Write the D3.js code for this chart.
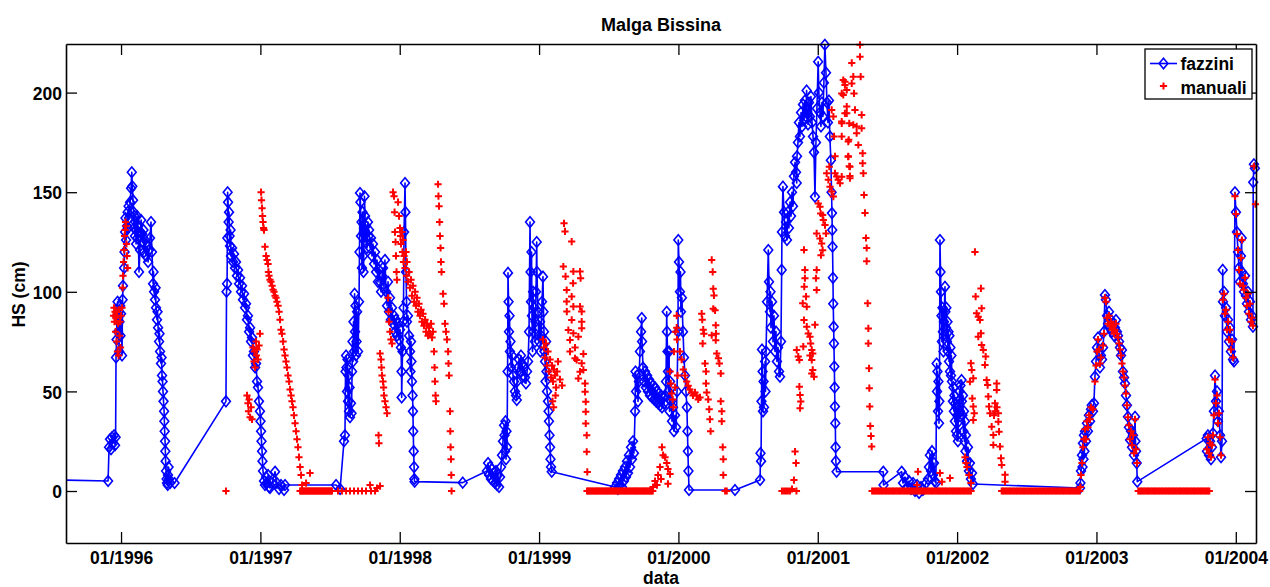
<!DOCTYPE html>
<html>
<head>
<meta charset="utf-8">
<script src="https://cdn.jsdelivr.net/npm/d3@7"></script>
<style>
  body { margin: 0; background: #fff; }
  svg { display: block; }
  text { font-family: "Liberation Sans", Arial, Helvetica, sans-serif; font-weight: bold; fill: #000; }
</style>
</head>
<body>
<svg id="chart" width="1270" height="587"></svg>
<script>
// ---- chart text ----
const chartTitle = "Malga Bissina";
const xLabel = "data";
const yLabel = "HS (cm)";
const seriesNames = ["fazzini", "manuali"];

// ---- axis ticks (x in decimal years) ----
const xTickYears = [1996, 1997, 1998, 1999, 2000, 2001, 2002, 2003, 2004];
const yTickValues = [0, 50, 100, 150, 200];
const xDomain = [1995.605, 2004.145];
const yDomain = [-26.1, 224.4];

// ---- snow depth (cm), automatic station: [decimal year, HS] ----
const fazzini = [
[1995.580,5.5],[1995.907,5],[1995.914,22],[1995.921,26],[1995.928,21],[1995.935,27],[1995.943,24],[1995.950,28],[1995.957,23],[1995.961,27],
[1995.964,67],[1995.968,76],[1995.971,88],[1995.975,95],[1995.978,80],[1995.982,90],[1995.986,70],[1995.989,85],[1995.993,93],[1995.996,78],
[1996.000,89],[1996.007,68],[1996.011,96],[1996.014,103],[1996.022,112],[1996.025,120],[1996.029,130],[1996.032,137],[1996.036,126],[1996.043,133],
[1996.047,140],[1996.050,132],[1996.054,143],[1996.057,137],[1996.065,145],[1996.072,152],[1996.077,160],[1996.081,153],[1996.086,146],[1996.090,140],
[1996.093,132],[1996.097,138],[1996.100,128],[1996.104,135],[1996.108,124],[1996.111,131],[1996.115,138],[1996.118,127],[1996.122,133],[1996.129,110],
[1996.136,121],[1996.140,130],[1996.144,136],[1996.151,129],[1996.158,125],[1996.161,131],[1996.165,120],[1996.172,126],[1996.179,118],[1996.187,123],
[1996.194,115],[1996.201,121],[1996.208,127],[1996.215,135],[1996.222,120],[1996.230,104],[1996.233,110],[1996.237,100],[1996.244,96],[1996.248,102],
[1996.251,92],[1996.258,86],[1996.262,90],[1996.266,82],[1996.273,75],[1996.276,79],[1996.280,70],[1996.287,64],[1996.291,67],[1996.294,58],
[1996.298,55],[1996.301,50],[1996.305,45],[1996.309,40],[1996.311,35],[1996.313,30],[1996.316,25],[1996.318,20],[1996.320,15],[1996.323,10],
[1996.327,6],[1996.330,4],[1996.335,3],[1996.337,8],[1996.341,12],[1996.344,6],[1996.352,4],[1996.384,4],
[1996.753,45],[1996.757,100],[1996.761,104],[1996.763,127],[1996.765,150],[1996.768,145],[1996.772,135],[1996.775,140],[1996.779,128],[1996.782,123],
[1996.786,131],[1996.789,118],[1996.797,122],[1996.804,115],[1996.811,119],[1996.818,112],[1996.825,115],[1996.832,108],[1996.840,111],[1996.847,104],
[1996.854,107],[1996.861,100],[1996.868,103],[1996.875,96],[1996.883,99],[1996.890,92],[1996.897,94],[1996.904,86],[1996.911,88],[1996.919,80],
[1996.926,82],[1996.933,75],[1996.940,77],[1996.947,68],[1996.954,70],[1996.962,62],[1996.969,64],[1996.976,55],[1996.983,52],[1996.990,45],
[1996.997,40],[1997.001,35],[1997.005,30],[1997.008,25],[1997.012,20],[1997.015,15],[1997.019,10],[1997.026,5],[1997.033,3],[1997.041,7],
[1997.048,4],[1997.055,8],[1997.062,2],[1997.069,1.5],[1997.084,4],[1997.105,9.7],[1997.119,4],[1997.134,1],[1997.148,3],[1997.170,0.5],
[1997.177,3],[1997.543,3],[1997.572,1],
[1997.600,25],[1997.607,28],[1997.611,60],[1997.615,68],[1997.618,62],[1997.622,50],[1997.625,66],[1997.629,45],[1997.633,58],[1997.636,40],
[1997.640,52],[1997.643,37],[1997.650,44],[1997.654,39],[1997.658,60],[1997.661,75],[1997.665,65],[1997.668,85],[1997.672,70],[1997.676,99],
[1997.679,80],[1997.683,93],[1997.686,68],[1997.690,75],[1997.694,90],[1997.701,70],[1997.708,95],[1997.711,120],[1997.715,149.6],[1997.718,145],
[1997.722,128],[1997.726,135],[1997.729,112],[1997.733,140],[1997.737,118],[1997.740,110],[1997.744,130],[1997.747,148],[1997.751,138],[1997.754,125],
[1997.758,133],[1997.765,122],[1997.772,135],[1997.776,128],[1997.780,131],[1997.787,122],[1997.794,127],[1997.801,118],[1997.808,124],[1997.816,114],
[1997.823,120],[1997.830,110],[1997.837,116],[1997.844,105],[1997.851,111],[1997.859,105],[1997.866,100],[1997.873,108],[1997.880,112],[1997.887,102],
[1997.894,116],[1997.902,100],[1997.909,93],[1997.916,105],[1997.923,90],[1997.930,97],[1997.937,86],[1997.945,92],[1997.952,84],[1997.959,88],
[1997.966,80],[1997.973,86],[1997.980,78],[1997.988,84],[1997.995,76],[1998.002,81],[1998.009,72],[1998.013,60],[1998.014,47],[1998.020,70],
[1998.024,85],[1998.027,92],[1998.031,130],[1998.038,154.6],[1998.041,140],[1998.045,110],[1998.049,95],[1998.052,85],[1998.059,88],[1998.067,78],
[1998.074,70],[1998.077,60],[1998.081,75],[1998.084,65],[1998.088,55],[1998.092,48],[1998.095,40],[1998.097,30],[1998.100,20],[1998.103,12],
[1998.105,6],[1998.107,4.7],[1998.452,4.2],
[1998.626,10],[1998.634,14],[1998.641,8],[1998.648,12],[1998.655,6],[1998.662,11],[1998.670,5],[1998.677,9],[1998.684,4],[1998.691,10],
[1998.698,3],[1998.705,8],[1998.713,2],[1998.720,7],[1998.727,12],[1998.734,18],[1998.741,25],[1998.749,33],[1998.752,28],[1998.756,20],
[1998.759,35],[1998.763,16],[1998.766,30],[1998.770,22],[1998.774,60],[1998.777,109.5],[1998.781,95],[1998.784,80],[1998.788,88],[1998.791,70],
[1998.795,75],[1998.799,62],[1998.806,68],[1998.813,58],[1998.820,55],[1998.827,50],[1998.835,48],[1998.840,45.7],[1998.842,55],[1998.849,62],
[1998.856,66],[1998.863,60],[1998.870,68],[1998.878,64],[1998.885,58],[1998.892,62],[1998.899,57],[1998.906,54],[1998.914,60],[1998.921,65],
[1998.928,80],[1998.935,135],[1998.939,110],[1998.942,95],[1998.946,120],[1998.949,88],[1998.953,70],[1998.957,100],[1998.960,80],[1998.964,92],
[1998.971,75],[1998.974,85],[1998.978,100],[1998.983,125],[1998.985,110],[1998.992,90],[1998.999,75],[1999.007,85],[1999.010,70],[1999.014,78],
[1999.021,95],[1999.028,107.6],[1999.032,90],[1999.035,80],[1999.039,70],[1999.043,65],[1999.046,55],[1999.050,75],[1999.053,60],[1999.057,50],
[1999.064,45],[1999.068,40],[1999.071,35],[1999.075,28],[1999.079,22],[1999.082,16],[1999.086,12],[1999.091,9.7],
[1999.545,2],[1999.559,4],[1999.566,1],[1999.574,6],[1999.581,3],[1999.588,8],[1999.595,2],[1999.602,10],[1999.609,5],[1999.617,12],
[1999.624,7],[1999.631,15],[1999.638,9],[1999.645,18],[1999.653,12],[1999.660,22],[1999.667,16],[1999.674,25],[1999.681,19],[1999.689,40],
[1999.692,60],[1999.696,50],[1999.703,58],[1999.710,45],[1999.717,55],[1999.724,70],[1999.732,80],[1999.737,86.8],[1999.739,75],[1999.746,62],
[1999.753,55],[1999.760,60],[1999.767,52],[1999.775,58],[1999.782,50],[1999.789,56],[1999.796,48],[1999.803,54],[1999.811,47],[1999.818,53],
[1999.825,46],[1999.832,52],[1999.839,45],[1999.846,50],[1999.854,44],[1999.861,49],[1999.868,43],[1999.875,48],[1999.882,42],[1999.890,47],
[1999.897,44],[1999.904,48],[1999.911,55],[1999.916,90],[1999.918,80],[1999.922,70],[1999.925,60],[1999.929,50],[1999.933,70],[1999.936,40],
[1999.940,55],[1999.947,45],[1999.954,35],[1999.961,42],[1999.968,30],[1999.976,38],[1999.983,32],[1999.990,50],[1999.997,80],[1999.999,126],
[2000.004,115],[2000.011,100],[2000.015,110],[2000.018,90],[2000.025,97],[2000.033,80],[2000.040,67],[2000.047,58],[2000.054,50],[2000.061,42],
[2000.065,30],[2000.068,20],[2000.072,10],[2000.076,0.5],[2000.406,0.5],
[2000.586,5.5],[2000.589,19],[2000.593,15],[2000.596,45],[2000.600,71],[2000.604,60],[2000.607,40],[2000.611,55],[2000.614,42],[2000.622,65],
[2000.625,50],[2000.629,70],[2000.636,95],[2000.645,121],[2000.650,105],[2000.657,90],[2000.661,100],[2000.664,82],[2000.672,95],[2000.679,75],
[2000.686,88],[2000.693,70],[2000.700,80],[2000.707,65],[2000.715,72],[2000.722,60],[2000.729,57.4],[2000.736,75],[2000.741,111],[2000.743,130],
[2000.750,152.8],[2000.758,140],[2000.765,128],[2000.772,135],[2000.779,126],[2000.786,140],[2000.793,132],[2000.801,145],[2000.808,138],[2000.815,150],
[2000.822,143],[2000.829,158],[2000.837,165],[2000.844,160],[2000.849,154.6],[2000.851,168],[2000.858,175],[2000.865,185],[2000.872,178],[2000.880,190],
[2000.887,183],[2000.894,194],[2000.901,186],[2000.908,196],[2000.915,188],[2000.920,201],[2000.923,192],[2000.930,184],[2000.937,195],[2000.944,188],
[2000.951,198],[2000.959,185],[2000.966,178],[2000.973,170],[2000.980,147.7],[2000.987,175],[2000.994,192],[2001.003,215.5],[2001.008,200],[2001.016,190],
[2001.023,183],[2001.030,195],[2001.037,188],[2001.044,205],[2001.051,224],[2001.059,210],[2001.066,195],[2001.073,185],[2001.080,196],[2001.087,178],
[2001.094,166],[2001.099,150],[2001.102,139.5],[2001.104,131],[2001.106,122.6],[2001.109,107],[2001.111,94],[2001.114,82.5],[2001.116,74],[2001.119,62.5],
[2001.121,52],[2001.123,42.4],[2001.126,34],[2001.128,22],[2001.130,15],[2001.135,9.7],[2001.470,9.7],[2001.472,3],
[2001.602,9.7],[2001.612,4],[2001.626,7],[2001.641,2],[2001.655,5],[2001.669,1],[2001.684,4],[2001.698,0],[2001.713,3],[2001.727,-1],
[2001.741,2],[2001.755,0.5],[2001.777,4],[2001.791,6],[2001.798,12],[2001.805,18],[2001.813,10],[2001.820,20],[2001.827,8],[2001.834,14],
[2001.841,5],[2001.848,4],[2001.853,64],[2001.856,50],[2001.859,60],[2001.863,40],[2001.866,55],[2001.870,34],[2001.873,45],[2001.877,126],
[2001.881,110],[2001.884,100],[2001.888,88],[2001.891,75],[2001.895,92],[2001.898,80],[2001.902,70],[2001.906,85],[2001.913,102.5],[2001.916,90],
[2001.920,82],[2001.923,92],[2001.927,75],[2001.931,85],[2001.934,70],[2001.938,80],[2001.942,65],[2001.945,78],[2001.949,60],[2001.952,72],
[2001.956,58],[2001.959,68],[2001.963,55],[2001.970,45],[2001.974,52],[2001.977,40],[2001.981,48],[2001.984,35],[2001.988,44],[2001.992,30],
[2001.995,42],[2001.999,28],[2002.002,38],[2002.006,25],[2002.009,45],[2002.013,35],[2002.017,50],[2002.020,40],[2002.024,53],[2002.032,55.7],
[2002.034,45],[2002.038,38],[2002.042,48],[2002.045,30],[2002.049,40],[2002.052,25],[2002.056,35],[2002.060,20],[2002.063,28],[2002.071,15],
[2002.078,22],[2002.085,10],[2002.092,14],[2002.099,6],[2002.107,9],[2002.114,3.5],[2002.882,1.5],
[2002.885,4],[2002.889,10],[2002.896,18],[2002.900,12],[2002.903,24],[2002.907,16],[2002.910,28],[2002.914,20],[2002.918,30],[2002.925,25],
[2002.932,34],[2002.939,30],[2002.946,38],[2002.954,35],[2002.961,41],[2002.966,43],[2002.975,40],[2002.982,44],[2002.989,57.4],[2002.997,65],
[2003.004,72],[2003.011,77],[2003.018,70],[2003.025,62],[2003.032,68],[2003.040,66],[2003.047,72],[2003.054,80],[2003.061,98.4],[2003.068,96],
[2003.076,88],[2003.083,84],[2003.090,90],[2003.097,82],[2003.104,86],[2003.111,80],[2003.119,84],[2003.126,78],[2003.133,82],[2003.140,85.8],
[2003.147,80],[2003.155,78],[2003.162,75],[2003.169,72],[2003.176,68],[2003.183,70.8],[2003.190,60],[2003.198,57],[2003.205,54],[2003.212,48],
[2003.219,43],[2003.226,37.3],[2003.233,32],[2003.241,25.6],[2003.248,30],[2003.255,22],[2003.262,28],[2003.269,18],[2003.277,37.3],[2003.280,25],
[2003.284,20],[2003.289,14],[2003.293,4.7],
[2003.791,26.4],[2003.793,20],[2003.800,28],[2003.808,18],[2003.815,25],[2003.822,16],[2003.829,22],[2003.836,29],[2003.843,40],[2003.851,58],
[2003.858,45],[2003.865,50],[2003.872,35],[2003.879,40],[2003.887,28],[2003.894,17],[2003.901,25],[2003.906,111],[2003.908,95],[2003.915,100],
[2003.922,88],[2003.930,92],[2003.937,80],[2003.944,86],[2003.951,75],[2003.958,82],[2003.965,70],[2003.973,76],[2003.980,66],[2003.987,65],
[2003.994,150],[2004.001,140],[2004.008,130],[2004.016,120],[2004.023,112],[2004.030,105],[2004.037,118],[2004.042,127],[2004.044,110],[2004.051,104],
[2004.059,100],[2004.066,108],[2004.073,98],[2004.080,94],[2004.087,100],[2004.094,90],[2004.102,95],[2004.109,86],[2004.116,88],[2004.123,82.5],
[2004.125,155],[2004.130,164],[2004.137,162]
];

// ---- snow depth (cm), manual readings above zero: [decimal year, HS] ----
const manuali = [
[1995.946,88],[1995.950,92],[1995.953,85],[1995.957,90],[1995.961,80],[1995.964,87],[1995.968,75],[1995.971,88],[1995.975,70],[1995.978,84],
[1995.982,68],[1995.986,91],[1995.989,78],[1995.993,85],[1995.996,72],[1996.000,88],[1996.007,92],[1996.011,102],[1996.014,108],[1996.018,115],
[1996.022,121],[1996.025,128],[1996.029,131],[1996.032,135],[1996.036,133],[1996.039,124],[1996.043,118],[1996.047,112],
[1996.904,48],[1996.911,44],[1996.915,40],[1996.919,46],[1996.926,37],[1996.933,42],[1996.940,36],[1996.947,72],[1996.954,65],[1996.958,70],
[1996.962,62],[1996.969,75],[1996.972,68],[1996.976,71],[1996.983,66],[1996.990,73],[1996.997,79],
[1997.005,150],[1997.008,146],[1997.012,142],[1997.015,138],[1997.019,135],[1997.023,132],[1997.026,131],[1997.033,122.6],[1997.041,118],[1997.048,116],
[1997.055,114],[1997.058,110],[1997.062,108],[1997.069,106],[1997.076,105],[1997.084,103],[1997.091,101],[1997.098,100],[1997.105,98],[1997.112,97],
[1997.119,95],[1997.127,93],[1997.134,90],[1997.141,86],[1997.148,81],[1997.155,79],[1997.163,75],[1997.170,71],[1997.177,68],[1997.184,65],
[1997.191,62],[1997.198,58],[1997.206,55],[1997.213,51],[1997.220,48],[1997.227,45],[1997.234,42],[1997.241,38],[1997.249,34],[1997.256,30],
[1997.263,26],[1997.270,22],[1997.277,17],[1997.285,12],[1997.292,8],[1997.299,3],[1997.356,9],[1997.328,4],[1997.787,3],[1997.837,1.5],[1997.859,2.5],
[1997.848,28],[1997.851,24],[1997.859,69],[1997.866,66],[1997.869,62],[1997.873,58],[1997.880,55],[1997.884,52],[1997.887,48],[1997.894,45],
[1997.902,42],[1997.909,39],[1997.916,97],[1997.920,90],[1997.923,85],[1997.930,80],[1997.937,76],[1997.945,74],[1997.952,150],[1997.959,148],
[1997.963,140],[1997.966,130],[1997.970,125],[1997.973,118],[1997.977,110],[1997.980,106],[1997.988,145],[1997.995,138],[1998.002,132],[1998.006,128],
[1998.009,124],[1998.016,130],[1998.020,120],[1998.024,126],[1998.027,115],[1998.031,118],[1998.038,112],[1998.045,120],[1998.049,108],[1998.052,115],
[1998.059,105],[1998.067,110],[1998.074,102],[1998.081,106],[1998.088,98],[1998.095,103],[1998.103,95],[1998.110,100],[1998.117,93],[1998.124,97],
[1998.131,90],[1998.138,94],[1998.146,88],[1998.153,91],[1998.160,85],[1998.167,89],[1998.174,83],[1998.182,86],[1998.189,80],[1998.196,84],
[1998.203,78],[1998.210,82],[1998.218,79],[1998.225,84],[1998.232,77],[1998.239,80],[1998.246,70],[1998.250,62],[1998.253,55],[1998.257,48],
[1998.260,45],[1998.275,154],[1998.278,148],[1998.282,143],[1998.286,135],[1998.289,128],[1998.293,122],[1998.296,115],[1998.300,110],[1998.311,99],
[1998.318,94],[1998.325,84],[1998.332,80],[1998.339,76],[1998.347,70],[1998.350,64],[1998.354,58],[1998.361,40],[1998.363,30],[1998.365,22],
[1998.368,16],[1998.370,8],
[1999.028,76],[1999.035,72],[1999.043,67],[1999.050,74],[1999.057,63],[1999.064,70],[1999.071,60],[1999.079,66],[1999.086,57],[1999.093,63],
[1999.100,55],[1999.107,61],[1999.114,58],[1999.122,52],[1999.097,45],[1999.104,42],[1999.118,48],[1999.129,60],[1999.136,65],[1999.150,56],
[1999.165,53],[1999.179,134.4],[1999.186,130.3],[1999.234,125.2],[1999.174,112.7],[1999.190,107.7],[1999.246,110.2],[1999.294,110.2],[1999.298,106.8],[1999.244,104.3],
[1999.198,100.9],[1999.234,97.6],[1999.198,95.1],[1999.246,92.6],[1999.294,92.6],[1999.199,90.1],[1999.306,90.1],[1999.234,85.9],[1999.306,85],[1999.210,80.8],
[1999.306,81.7],[1999.246,79.2],[1999.282,77.5],[1999.222,75.8],[1999.258,72],[1999.222,70],[1999.258,66.6],[1999.270,65.8],[1999.318,68.8],[1999.306,64.1],
[1999.318,60.8],[1999.294,59.9],[1999.282,56.5],[1999.330,54],[1999.330,49.8],[1999.335,44.8],[1999.335,39.8],[1999.335,33.9],[1999.342,28],[1999.342,19.7],
[1999.346,9.6],
[1999.818,2],[1999.832,5],[1999.846,3],[1999.854,8],[1999.868,12],[1999.875,6],[1999.882,22],[1999.890,18],[1999.904,17],[1999.916,14],
[1999.925,11],[1999.940,8.5],[1999.925,3.6],[1999.940,60],[1999.945,54],[1999.952,49],[1999.959,46],[1999.964,42],[1999.976,52],[1999.988,88],
[1999.988,82],[1999.990,76],[1999.968,70],[1999.979,80],[1999.994,58],[2000.011,70],[2000.023,66],[2000.035,61],[2000.047,58],[2000.059,55],
[2000.070,52.8],[2000.082,51],[2000.094,49.5],[2000.105,48],[2000.119,49.5],[2000.131,48],[2000.142,46],[2000.155,47],[2000.167,89],[2000.171,86],
[2000.178,81],[2000.183,79],[2000.174,74],[2000.191,64],[2000.198,60],[2000.198,54],[2000.203,49.5],[2000.214,46],[2000.221,41],[2000.226,36],
[2000.231,30],[2000.239,116],[2000.246,110],[2000.250,101.5],[2000.255,98.2],[2000.250,91.5],[2000.263,90.7],[2000.268,83.2],[2000.239,78.2],[2000.270,79],
[2000.268,75.7],[2000.275,69],[2000.287,66.6],[2000.294,64],[2000.304,59],[2000.304,45],[2000.311,40],[2000.311,35],[2000.318,22],[2000.322,16],
[2000.322,8],
[2000.815,1],[2000.829,5.5],[2000.837,19.8],[2000.844,14],[2000.868,52.4],[2000.873,48.2],[2000.878,44.9],[2000.873,41.6],[2000.849,70.8],[2000.860,67.5],
[2000.868,65.8],[2000.896,72.5],[2000.957,70.8],[2000.957,65.8],[2000.964,69],[2000.944,68],[2000.901,121],[2000.908,111],[2000.908,106.8],[2000.903,102.6],
[2000.916,97.6],[2000.921,92.5],[2000.892,94.2],[2000.901,85.8],[2000.921,82.5],[2000.932,79.1],[2000.944,77.5],[2000.949,74.1],[2000.980,83.4],[2000.992,111],
[2000.987,106.8],[2000.992,100.9],[2000.964,60.8],[2000.973,57.4],[2000.957,59],[2001.004,144.3],[2001.016,142.7],[2001.021,139.3],[2001.035,138.5],[2001.040,136],
[2001.052,133.5],[2001.059,129.3],[2000.992,129.3],[2001.016,126.8],[2001.028,124.3],[2001.035,120.9],[2001.023,118.4],[2001.064,159.5],[2001.076,156.2],[2001.088,152.8],
[2001.100,150.3],[2001.112,147.8],[2001.083,162.8],[2001.124,159.5],[2001.136,157.9],[2001.147,156.2],[2001.160,154.5],[2001.100,191.3],[2001.112,188],[2001.117,178],
[2001.124,168],[2001.172,185.5],[2001.172,178],[2001.183,206.3],[2001.195,203.8],[2001.208,201.3],[2001.219,168],[2001.226,163],[2001.231,158.1],[2001.208,189.6],
[2001.226,184.6],[2001.222,176.3],[2001.172,199.6],[2001.303,224],[2001.303,218],[2001.244,214.9],[2001.308,208],[2001.255,208],[2001.195,205.4],[2001.244,204.6],
[2001.183,198.8],[2001.260,199.6],[2001.267,191.3],[2001.315,188.8],[2001.208,193],[2001.195,189.6],[2001.172,184.6],[2001.255,183.8],[2001.279,183],[2001.315,182.1],
[2001.279,179.6],[2001.291,173.7],[2001.219,175.4],[2001.322,169.5],[2001.322,164.5],[2001.327,159.5],[2001.231,162.8],[2001.219,167.8],[2001.231,157],[2001.172,157.8],
[2001.332,148.6],[2001.339,139.6],[2001.346,127],[2001.351,122],[2001.351,115.4],[2001.358,94.2],[2001.363,81.6],[2001.363,74.1],[2001.368,61.6],[2001.370,51.6],
[2001.373,42.4],[2001.377,32.6],[2001.382,27.6],[2001.387,22.3],
[2001.719,9.7],[2001.712,3],[2001.877,9],[2001.891,4.6],[2001.949,6.5],[2002.057,17],[2002.064,14],[2002.071,12],[2002.085,8],[2002.099,4],
[2002.128,120],[2002.092,54.9],[2002.105,60.8],[2002.099,64.1],[2002.116,56.6],[2002.109,46.5],[2002.116,42.4],[2002.123,39],[2002.116,35.6],[2002.133,97.6],
[2002.140,89.2],[2002.152,87.5],[2002.164,85.9],[2002.171,101.7],[2002.176,91.7],[2002.171,79.2],[2002.176,73.3],[2002.152,77.5],[2002.188,70.8],[2002.200,63.3],
[2002.205,67.5],[2002.212,55.7],[2002.219,53.2],[2002.224,47.4],[2002.229,42.4],[2002.236,39],[2002.248,32.3],[2002.260,28.1],[2002.260,23.1],[2002.272,44],
[2002.284,50.7],[2002.284,54],[2002.296,39],[2002.296,34.8],[2002.301,29.8],[2002.308,22.3],[2002.315,16.5],[2002.320,13.1],[2002.344,8.1],[2002.344,4.7],
[2002.272,40],[2002.286,42],[2002.265,38],
[2002.885,2],[2002.889,8],[2002.896,14],[2002.903,22],[2002.910,26],[2002.918,31],[2002.925,26],[2002.932,35],[2002.939,32],[2002.946,38],
[2002.954,36],[2002.961,42],[2002.975,41],[2002.989,55],[2002.997,63],[2003.004,70],[2003.011,76],[2003.018,71],[2003.025,64],[2003.032,67],
[2003.047,73],[2003.054,79],[2003.061,97],[2003.068,95],[2003.076,87],[2003.083,84],[2003.090,88],[2003.097,83],[2003.104,85],[2003.111,81],
[2003.119,83],[2003.126,79],[2003.133,81],[2003.140,84],[2003.147,79],[2003.155,77],[2003.162,74],[2003.169,71],[2003.176,68],[2003.183,64],
[2003.190,60],[2003.198,57],[2003.205,53],[2003.212,49],[2003.219,43],[2003.226,37],[2003.233,33],[2003.241,26],[2003.248,30],[2003.255,23],
[2003.262,28],[2003.269,19],[2003.277,36],[2003.284,21],[2003.291,14],
[2003.793,21],[2003.800,27],[2003.808,19],[2003.815,24],[2003.822,17],[2003.829,23],[2003.836,28],[2003.843,38],[2003.851,56],[2003.858,44],
[2003.865,48],[2003.872,34],[2003.879,39],[2003.887,27],[2003.894,18],[2003.908,96],[2003.915,99],[2003.922,89],[2003.930,91],[2003.937,81],
[2003.944,85],[2003.951,76],[2003.958,81],[2003.965,71],[2003.973,75],[2003.980,67],[2003.994,148],[2004.001,139],[2004.008,129],[2004.016,121],
[2004.023,111],[2004.030,104],[2004.037,117],[2004.044,126],[2004.051,103],[2004.059,101],[2004.066,107],[2004.073,97],[2004.080,93],[2004.087,99],
[2004.094,89],[2004.102,94],[2004.109,85],[2004.116,87],[2004.123,83],[2004.130,163],[2004.141,144]
];

// ---- manual readings with no snow on the ground (HS = 0): decimal years ----
const manualiZeroDates = [
1996.753,
1997.285,1997.292,1997.299,1997.306,1997.313,1997.320,1997.328,1997.335,1997.342,1997.349,1997.356,1997.363,1997.371,1997.378,1997.385,1997.392,
1997.399,1997.407,1997.414,1997.421,1997.428,1997.435,1997.442,1997.450,1997.457,1997.464,1997.471,1997.478,1997.485,1997.493,1997.500,1997.507,
1997.514,1997.557,1997.586,1997.615,1997.643,1997.672,1997.701,1997.729,1997.758,1997.794,1997.823,
1998.372,
1999.344,1999.352,1999.360,1999.368,1999.376,1999.384,1999.392,1999.400,1999.408,1999.416,1999.424,1999.432,1999.440,1999.448,1999.456,
1999.464,1999.472,1999.480,1999.488,1999.496,1999.504,1999.512,1999.520,1999.528,1999.536,1999.544,1999.552,1999.560,1999.568,1999.576,
1999.584,1999.592,1999.600,1999.608,1999.616,1999.624,1999.632,1999.640,1999.648,1999.656,1999.664,1999.672,1999.680,1999.688,1999.696,
1999.704,1999.712,1999.720,1999.728,1999.736,1999.744,1999.752,1999.760,1999.768,1999.776,1999.784,1999.792,1999.800,1999.808,1999.816,
2000.335,2000.347,2000.743,2000.758,2000.772,2000.786,2000.801,2000.847,
2001.39,2001.40,2001.41,2001.42,2001.43,2001.44,2001.45,2001.46,2001.47,2001.48,2001.49,2001.50,2001.51,2001.52,2001.53,2001.54,2001.55,2001.56,
2001.57,2001.58,2001.59,2001.60,2001.61,2001.62,2001.63,2001.64,2001.65,2001.66,2001.67,2001.68,2001.69,2001.70,2001.71,2001.72,2001.73,2001.74,
2001.75,2001.76,2001.77,2001.78,2001.79,2001.80,2001.81,2001.82,2001.83,2001.84,2001.85,2001.86,2001.87,2001.88,2001.89,2001.90,2001.91,2001.92,
2001.93,2001.94,2001.95,2001.96,2001.97,2001.98,2001.99,2002.00,2002.01,2002.02,2002.03,2002.04,2002.05,2002.06,2002.07,2002.08,2002.09,2002.10,
2002.32,2002.33,2002.34,2002.35,2002.36,2002.37,2002.38,2002.39,2002.40,2002.41,2002.42,2002.43,2002.44,2002.45,2002.46,2002.47,2002.48,2002.49,
2002.50,2002.51,2002.52,2002.53,2002.54,2002.55,2002.56,2002.57,2002.58,2002.59,2002.60,2002.61,2002.62,2002.63,2002.64,2002.65,2002.66,2002.67,
2002.68,2002.69,2002.70,2002.71,2002.72,2002.73,2002.74,2002.75,2002.76,2002.77,2002.78,2002.79,2002.80,2002.81,2002.82,2002.83,2002.84,2002.85,
2002.86,2002.87,2002.88,
2003.30,2003.31,2003.32,2003.33,2003.34,2003.35,2003.36,2003.37,2003.38,2003.39,2003.40,2003.41,2003.42,2003.43,2003.44,2003.45,2003.46,2003.47,
2003.48,2003.49,2003.50,2003.51,2003.52,2003.53,2003.54,2003.55,2003.56,2003.57,2003.58,2003.59,2003.60,2003.61,2003.62,2003.63,2003.64,2003.65,
2003.66,2003.67,2003.68,2003.69,2003.70,2003.71,2003.72,2003.73,2003.74,2003.75,2003.76,2003.77,2003.78,2003.79,2003.80,2003.81
];

// ---- layout ----
const W = 1270, H = 587;
const plot = { left: 66, right: 1256, top: 44, bottom: 543 };
const blue = "#0000ff", red = "#ff0000";

const svg = d3.select("#chart");

const x = d3.scaleLinear().domain(xDomain).range([plot.left, plot.right]);
const y = d3.scaleLinear().domain(yDomain).range([plot.bottom, plot.top]);

svg.append("rect").attr("width", W).attr("height", H).attr("fill", "#fff");

svg.append("defs").append("clipPath").attr("id", "plotClip")
  .append("rect")
  .attr("x", plot.left).attr("y", plot.top - 2)
  .attr("width", plot.right - plot.left).attr("height", plot.bottom - plot.top + 2);

const inX = d => d[0] >= xDomain[0] && d[0] <= xDomain[1];

// automatic station: line with open diamonds
const line = d3.line().x(d => x(d[0])).y(d => y(d[1]));
svg.append("path")
  .datum(fazzini)
  .attr("clip-path", "url(#plotClip)")
  .attr("d", line)
  .attr("fill", "none")
  .attr("stroke", blue)
  .attr("stroke-width", 1.6)
  .attr("stroke-linejoin", "round");

const diamond = "M0,-5.3L4.4,0L0,5.3L-4.4,0Z";
svg.append("g").selectAll("path")
  .data(fazzini.filter(inX))
  .join("path")
  .attr("transform", d => `translate(${x(d[0])},${y(d[1])})`)
  .attr("d", diamond)
  .attr("fill", "none")
  .attr("stroke", blue)
  .attr("stroke-width", 1.6);

// manual readings: red plus markers
const manualAll = manuali.concat(manualiZeroDates.map(t => [t, 0]));
const plus = "M-3.6,0H3.6M0,-3.6V3.6";
svg.append("g").selectAll("path")
  .data(manualAll.filter(inX))
  .join("path")
  .attr("transform", d => `translate(${x(d[0])},${y(d[1])})`)
  .attr("d", plus)
  .attr("fill", "none")
  .attr("stroke", red)
  .attr("stroke-width", 2);

// ---- axes (box with inward ticks) ----
const tickLen = 11;
const fmtYear = d => "01/" + d;

const gBottom = svg.append("g").attr("transform", `translate(0,${plot.bottom})`)
  .call(d3.axisBottom(x).tickValues(xTickYears).tickFormat(fmtYear)
    .tickSizeInner(-tickLen).tickSizeOuter(0).tickPadding(9));
const gTop = svg.append("g").attr("transform", `translate(0,${plot.top})`)
  .call(d3.axisTop(x).tickValues(xTickYears).tickFormat("")
    .tickSizeInner(-tickLen).tickSizeOuter(0));
const gLeft = svg.append("g").attr("transform", `translate(${plot.left},0)`)
  .call(d3.axisLeft(y).tickValues(yTickValues).tickFormat(d3.format("d"))
    .tickSizeInner(-tickLen).tickSizeOuter(0).tickPadding(4));
const gRight = svg.append("g").attr("transform", `translate(${plot.right},0)`)
  .call(d3.axisRight(y).tickValues(yTickValues).tickFormat("")
    .tickSizeInner(-tickLen).tickSizeOuter(0));

[gBottom, gTop, gLeft, gRight].forEach(g => {
  g.select(".domain").attr("stroke", "#000").attr("stroke-width", 1.6);
  g.selectAll(".tick line").attr("stroke", "#000").attr("stroke-width", 1.3);
  g.selectAll(".tick text")
    .attr("fill", "#000")
    .style("font-size", "17.5px")
    .style("font-weight", "bold")
    .style("font-family", "'Liberation Sans', Arial, Helvetica, sans-serif");
});
gLeft.selectAll(".tick text").attr("dy", "0.38em");

// ---- titles ----
svg.append("text")
  .attr("x", (plot.left + plot.right) / 2).attr("y", 31)
  .attr("text-anchor", "middle")
  .style("font-size", "18px")
  .text(chartTitle);

svg.append("text")
  .attr("x", (plot.left + plot.right) / 2).attr("y", 584)
  .attr("text-anchor", "middle")
  .style("font-size", "17.5px")
  .text(xLabel);

svg.append("text")
  .attr("transform", `translate(25,${(plot.top + plot.bottom) / 2 + 1}) rotate(-90)`)
  .attr("text-anchor", "middle")
  .style("font-size", "17.5px")
  .text(yLabel);

// ---- legend ----
const lg = svg.append("g").attr("transform", "translate(1145,49)");
lg.append("rect")
  .attr("width", 107).attr("height", 50)
  .attr("fill", "#fff").attr("stroke", "#000").attr("stroke-width", 1.3);
lg.append("line")
  .attr("x1", 5).attr("x2", 32).attr("y1", 14.5).attr("y2", 14.5)
  .attr("stroke", blue).attr("stroke-width", 1.6);
lg.append("path")
  .attr("transform", "translate(18.5,14.5)")
  .attr("d", diamond).attr("fill", "none").attr("stroke", blue).attr("stroke-width", 1.6);
lg.append("path")
  .attr("transform", "translate(18.5,37)")
  .attr("d", plus).attr("fill", "none").attr("stroke", red).attr("stroke-width", 2);
lg.selectAll("text.lab")
  .data(seriesNames)
  .join("text")
  .attr("class", "lab")
  .attr("x", 35.5)
  .attr("y", (d, i) => 21 + i * 24)
  .style("font-size", "17.5px")
  .text(d => d);
</script>
</body>
</html>
